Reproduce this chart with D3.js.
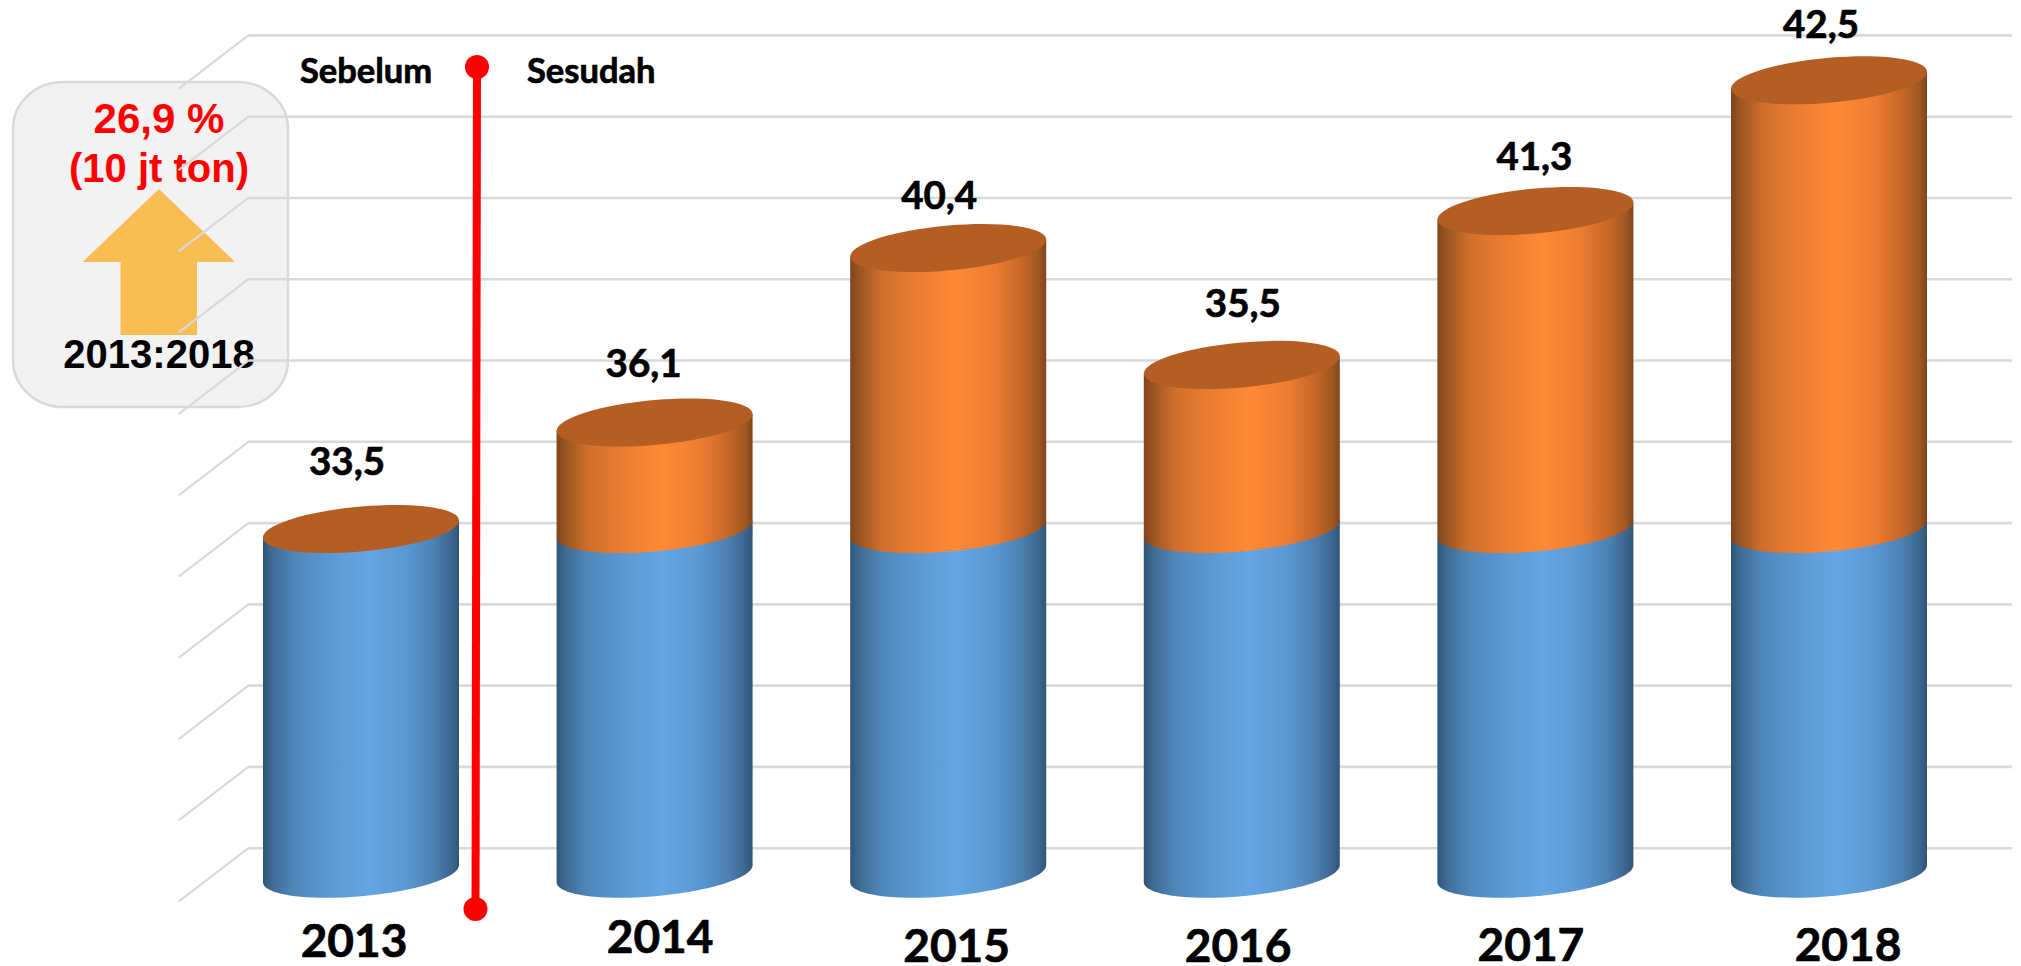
<!DOCTYPE html>
<html>
<head>
<meta charset="utf-8">
<script src="https://cdn.jsdelivr.net/npm/d3@7"></script>
<style>
  html, body { margin: 0; padding: 0; background: #fff; overflow: hidden; }
  text { font-family: Lato, "Open Sans", sans-serif; font-weight: 700; fill: #000; stroke: #000; stroke-width: 0.7px; }
  .box-text { font-family: "Liberation Sans", Arial, sans-serif; stroke: none; }
</style>
</head>
<body>
<div id="chart"></div>
<script>
// heights read off the gridlines (the printed labels do not follow the bar heights)
var years = ["2013", "2014", "2015", "2016", "2017", "2018"];
var baseValues = [21.27, 21.27, 21.27, 21.27, 21.27, 21.27];
var addedValues = [0, 6.55, 17.28, 10.09, 19.56, 27.6];
var valueLabels = ["33,5", "36,1", "40,4", "35,5", "41,3", "42,5"];
var gridTicks = [0, 5, 10, 15, 20, 25, 30, 35, 40, 45, 50];

// hand placed text in the original, offsets from the bar
var labelDx = [-14, -11, -9, 1, -1, -8];
var labelDy = [-54, -45.5, -39, -48.3, -41, -42.5];
var yearDx = [-7, 5.5, 8.4, -3.7, -4.5, 19];
var yearBaseline = [957, 953, 962, 962, 961, 961];

var width = 2021, height = 966;
var depthBack = 27, backX = 249, frontX = 178.6, gridRight = 2012;

var svg = d3.select("#chart").append("svg")
  .attr("width", width)
  .attr("height", height)
  .style("display", "block");

var x = d3.scaleBand()
  .domain(years)
  .range([214.2, 1975.8])
  .paddingInner(0.3324)
  .paddingOuter(0.1662);

var y = d3.scaleLinear()
  .domain([0, 50])
  .range([874.7, 61.9]);

var defs = svg.append("defs");

function addGradient(id, stops) {
  var grad = defs.append("linearGradient")
    .attr("id", id)
    .attr("x1", 0).attr("x2", 1)
    .attr("y1", 0).attr("y2", 0);
  grad.selectAll("stop")
    .data(stops)
    .enter().append("stop")
    .attr("offset", function(d) { return d[0]; })
    .attr("stop-color", function(d) { return d[1]; });
}

addGradient("blueBody", [
  [0, "#2f5575"], [0.05, "#3f6c95"], [0.16, "#4f87ba"], [0.32, "#5a97d1"],
  [0.54, "#63a6e3"], [0.74, "#5a97d2"], [0.88, "#4b7fae"], [0.96, "#3c6690"], [1, "#305675"]
]);
addGradient("orangeBody", [
  [0, "#7f451a"], [0.05, "#9c5621"], [0.16, "#cf6f2c"], [0.3, "#e67a2f"],
  [0.54, "#ff8a36"], [0.74, "#ec7c30"], [0.88, "#c46628"], [0.96, "#a05822"], [1, "#7f451a"]
]);

// info box, sits under the gridlines
var box = svg.append("g");

box.append("rect")
  .attr("x", 13).attr("y", 82)
  .attr("width", 275).attr("height", 325)
  .attr("rx", 50).attr("ry", 47)
  .attr("fill", "#f2f2f2")
  .attr("stroke", "#d9d9d9")
  .attr("stroke-width", 2.5);

box.append("path")
  .attr("d", "M159,189L235,262H197V335H120.5V262H82.6Z")
  .attr("fill", "#f8bd52");

box.append("text")
  .attr("class", "box-text")
  .attr("x", 159).attr("y", 133)
  .attr("text-anchor", "middle")
  .attr("font-size", 42)
  .style("fill", "#ff0000")
  .text("26,9 %");

box.append("text")
  .attr("class", "box-text")
  .attr("x", 159).attr("y", 182)
  .attr("text-anchor", "middle")
  .attr("font-size", 40)
  .style("fill", "#ff0000")
  .text("(10 jt ton)");

box.append("text")
  .attr("class", "box-text")
  .attr("x", 159).attr("y", 368)
  .attr("text-anchor", "middle")
  .attr("font-size", 40)
  .text("2013:2018");

// back wall gridlines
var yBack = y.copy().range(y.range().map(function(d) { return d - depthBack; }));

var grid = svg.append("g")
  .attr("class", "grid")
  .attr("transform", "translate(" + backX + ",0)")
  .call(d3.axisRight(yBack)
    .tickValues(gridTicks)
    .tickSize(gridRight - backX)
    .tickFormat(""));

grid.select(".domain").remove();
grid.selectAll("line")
  .attr("stroke", "#d9d9d9")
  .attr("stroke-width", 2.6);

// floor/side wall diagonals
svg.append("g").selectAll("line")
  .data(gridTicks)
  .enter().append("line")
  .attr("x1", backX)
  .attr("x2", frontX)
  .attr("y1", function(d) { return y(d) - depthBack; })
  .attr("y2", function(d) { return y(d) + depthBack; })
  .attr("stroke", "#d9d9d9")
  .attr("stroke-width", 2.2);

// cylinder outlines
var rx = x.bandwidth() / 2, tilt = 8.5, ry = 22.5;
var k = 0.5523;

function point(cx, cy, cos, sin) {
  return [cx + rx * cos, cy - tilt * cos + ry * sin];
}

function topEllipse(cx, cy) {
  var p = d3.path();
  var a = point(cx, cy, -1, 0);
  p.moveTo(a[0], a[1]);
  var s = [[-1, 0, -1, k, -k, 1, 0, 1], [0, 1, k, 1, 1, k, 1, 0],
           [1, 0, 1, -k, k, -1, 0, -1], [0, -1, -k, -1, -1, -k, -1, 0]];
  s.forEach(function(q) {
    var c1 = point(cx, cy, q[2], q[3]), c2 = point(cx, cy, q[4], q[5]), e = point(cx, cy, q[6], q[7]);
    p.bezierCurveTo(c1[0], c1[1], c2[0], c2[1], e[0], e[1]);
  });
  p.closePath();
  return p.toString();
}

function body(cx, yTop, yBottom) {
  var p = d3.path();
  var a = point(cx, yTop, -1, 0), b = point(cx, yBottom, -1, 0);
  p.moveTo(a[0], a[1]);
  p.lineTo(b[0], b[1]);
  var s = [[-1, k, -k, 1, 0, 1], [k, 1, 1, k, 1, 0]];
  s.forEach(function(q) {
    var c1 = point(cx, yBottom, q[0], q[1]), c2 = point(cx, yBottom, q[2], q[3]), e = point(cx, yBottom, q[4], q[5]);
    p.bezierCurveTo(c1[0], c1[1], c2[0], c2[1], e[0], e[1]);
  });
  var c = point(cx, yTop, 1, 0);
  p.lineTo(c[0], c[1]);
  p.closePath();
  return p.toString();
}

var rows = years.map(function(d, i) {
  return { year: d, base: baseValues[i], added: addedValues[i], label: valueLabels[i], i: i };
});

function centre(d) { return x(d.year) + x.bandwidth() / 2; }

var bars = svg.append("g").selectAll("g")
  .data(rows)
  .enter().append("g");

bars.append("path")
  .attr("d", function(d) { return body(centre(d), y(d.base), y(0) - 1); })
  .attr("fill", "url(#blueBody)");

bars.filter(function(d) { return d.added > 0; })
  .append("path")
  .attr("d", function(d) { return body(centre(d), y(d.base + d.added), y(d.base)); })
  .attr("fill", "url(#orangeBody)");

bars.append("path")
  .attr("d", function(d) { return topEllipse(centre(d), y(d.base + d.added)); })
  .attr("fill", "#b45e24");

// before / after marker
svg.append("line")
  .attr("x1", 477).attr("y1", 67)
  .attr("x2", 475.5).attr("y2", 909)
  .attr("stroke", "#ff0000")
  .attr("stroke-width", 8);

svg.selectAll("circle.marker")
  .data([[477, 67], [475.5, 909]])
  .enter().append("circle")
  .attr("class", "marker")
  .attr("cx", function(d) { return d[0]; })
  .attr("cy", function(d) { return d[1]; })
  .attr("r", 12)
  .attr("fill", "#ff0000");

svg.append("text")
  .attr("x", 300).attr("y", 83)
  .attr("font-size", 34.5)
  .text("Sebelum");

svg.append("text")
  .attr("x", 527).attr("y", 83)
  .attr("font-size", 34.5)
  .text("Sesudah");

// value labels
svg.append("g").selectAll("text")
  .data(rows)
  .enter().append("text")
  .attr("x", function(d) { return centre(d) + labelDx[d.i]; })
  .attr("y", function(d) { return y(d.base + d.added) + labelDy[d.i]; })
  .attr("text-anchor", "middle")
  .attr("font-size", 38.5)
  .text(function(d) { return d.label; });

// year labels
svg.append("g").selectAll("text")
  .data(rows)
  .enter().append("text")
  .attr("x", function(d) { return centre(d) + yearDx[d.i]; })
  .attr("y", function(d) { return yearBaseline[d.i]; })
  .attr("text-anchor", "middle")
  .attr("font-size", 46)
  .text(function(d) { return d.year; });
</script>
</body>
</html>
